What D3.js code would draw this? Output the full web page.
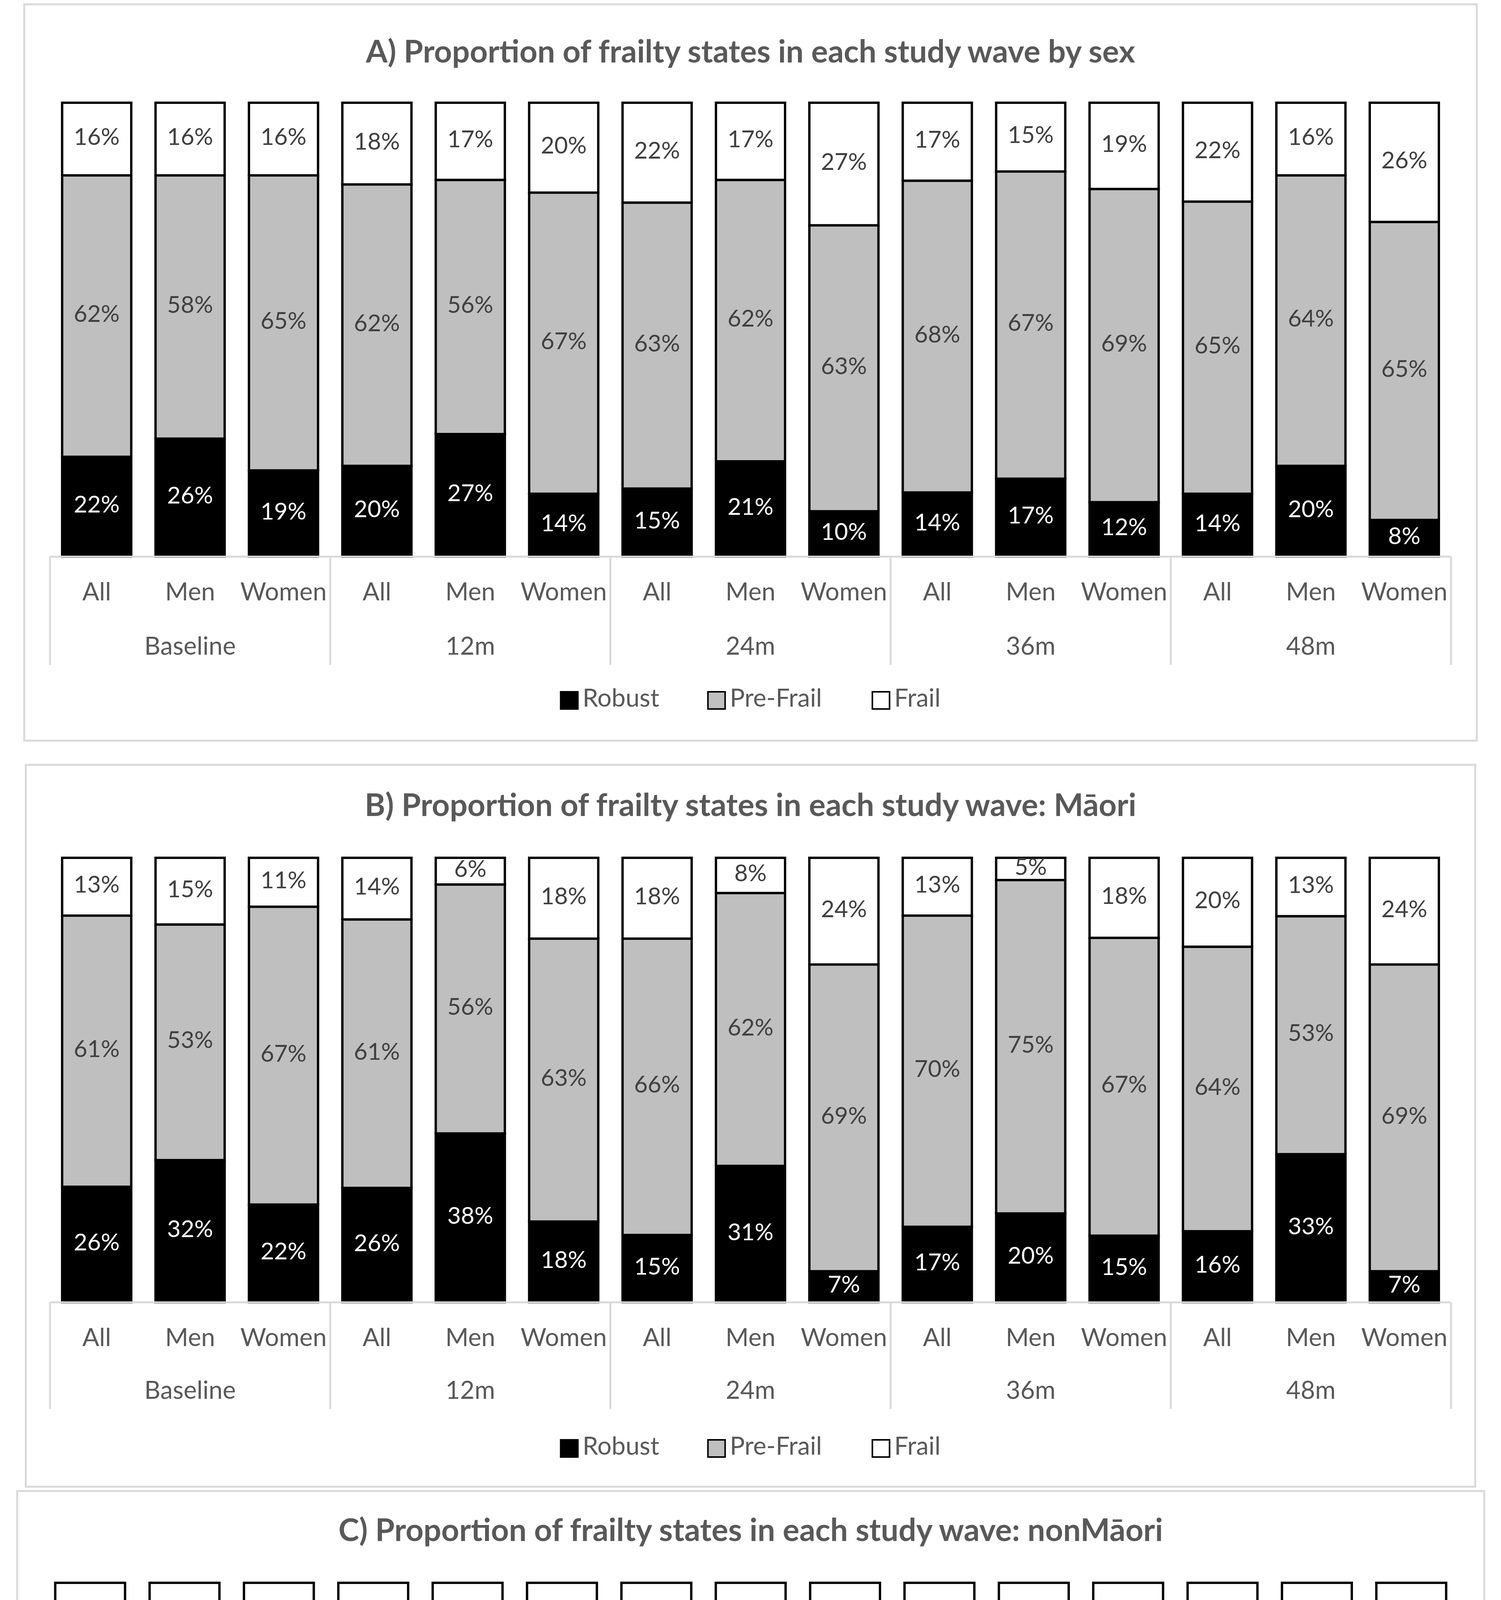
<!DOCTYPE html>
<html><head><meta charset="utf-8">
<script src="https://cdn.jsdelivr.net/npm/d3@7"></script>
<style>html,body{margin:0;padding:0;background:#fff;overflow:hidden}svg{display:block}</style>
</head><body>
<div id="chart"></div>
<script>
const W = 3843, H = 5756;
const waves = ['Baseline', '12m', '24m', '36m', '48m'];
const groups = ['All', 'Men', 'Women'];
const states = ['Robust', 'Pre-Frail', 'Frail'];
const fills = ['#000000', '#bfbfbf', '#ffffff'];
const labelColors = ['#ffffff', '#404040', '#404040'];

// [robust, pre-frail, frail] per wave x group
const dataA = [
  [22, 62, 16], [26, 58, 16], [19, 65, 16],
  [20, 62, 18], [27, 56, 17], [14, 67, 20],
  [15, 63, 22], [21, 62, 17], [10, 63, 27],
  [14, 68, 17], [17, 67, 15], [12, 69, 19],
  [14, 65, 22], [20, 64, 16], [8, 65, 26]
];
const dataB = [
  [26, 61, 13], [32, 53, 15], [22, 67, 11],
  [26, 61, 14], [38, 56, 6], [18, 63, 18],
  [15, 66, 18], [31, 62, 8], [7, 69, 24],
  [17, 70, 13], [20, 75, 5], [15, 67, 18],
  [16, 64, 20], [33, 53, 13], [7, 69, 24]
];
const dataC = [
  [20, 63, 17], [24, 61, 16], [18, 64, 18],
  [18, 62, 20], [24, 56, 20], [11, 68, 20],
  [15, 61, 23], [19, 62, 19], [12, 61, 27],
  [14, 68, 19], [17, 65, 18], [11, 70, 20],
  [13, 65, 22], [17, 66, 17], [9, 64, 27]
];

const panels = [
  {title: 'A) Proportion of frailty states in each study wave by sex', data: dataA,
   box: [62, 11, 3781, 1896], x0: 128, x1: 3715, title_y: 139, top: 263, bottom: 1425, lab: 1521, grp: 1660, sep: 1702, leg: 1793},
  {title: 'B) Proportion of frailty states in each study wave: Māori', data: dataB,
   box: [66, 1958, 3777, 3806], x0: 128, x1: 3715, title_y: 2068, top: 2196, bottom: 3334, lab: 3430, grp: 3565, sep: 3607, leg: 3708},
  {title: 'C) Proportion of frailty states in each study wave: nonMāori', data: dataC,
   box: [44, 3817, 3800, 5695], x0: 110, x1: 3734, title_y: 3924, top: 4052, bottom: 5208, lab: 5303, grp: 5442, sep: 5484, leg: 5585}
];

const font = 'Lato, "Open Sans", sans-serif';
const svg = d3.select('#chart').append('svg')
  .attr('width', W).attr('height', H).attr('viewBox', `0 0 ${W} ${H}`);

panels.forEach(p => {
  const g = svg.append('g');
  g.append('rect')
    .attr('x', p.box[0]).attr('y', p.box[1])
    .attr('width', p.box[2] - p.box[0]).attr('height', p.box[3] - p.box[1])
    .attr('fill', '#fff').attr('stroke', '#d9d9d9').attr('stroke-width', 5);

  g.append('text').attr('x', (p.box[0] + p.box[2]) / 2).attr('y', p.title_y)
    .attr('text-anchor', 'middle').attr('dominant-baseline', 'middle')
    .attr('font-family', font).attr('font-weight', 'bold').attr('font-size', 80)
    .attr('fill', '#595959').text(p.title);

  const keys = d3.range(15);
  const x = d3.scaleBand().domain(keys).range([p.x0, p.x1]).paddingInner(0.26).paddingOuter(0.13);
  const y = d3.scaleLinear().domain([0, 1]).range([p.bottom, p.top]);

  keys.forEach(i => {
    const vals = p.data[i];
    const tot = d3.sum(vals);
    let cum = 0;
    vals.forEach((v, k) => {
      const y0 = y(cum / tot), y1 = y((cum + v) / tot);
      cum += v;
      g.append('rect')
        .attr('x', x(i)).attr('y', y1).attr('width', x.bandwidth()).attr('height', y0 - y1)
        .attr('fill', fills[k]).attr('stroke', '#000').attr('stroke-width', 6);
      g.append('text')
        .attr('x', x(i) + x.bandwidth() / 2).attr('y', (y0 + y1) / 2)
        .attr('text-anchor', 'middle').attr('dominant-baseline', 'middle')
        .attr('font-family', font).attr('font-size', 60)
        .attr('fill', labelColors[k]).text(v + '%');
    });
    g.append('text')
      .attr('x', x(i) + x.bandwidth() / 2).attr('y', p.lab)
      .attr('text-anchor', 'middle').attr('dominant-baseline', 'middle')
      .attr('font-family', font).attr('font-size', 64).attr('fill', '#595959')
      .text(groups[i % 3]);
  });

  // axis line and group separators
  g.append('line').attr('x1', p.x0).attr('x2', p.x1).attr('y1', p.bottom).attr('y2', p.bottom)
    .attr('stroke', '#d9d9d9').attr('stroke-width', 5);
  const step = (p.x1 - p.x0) / waves.length;
  d3.range(waves.length + 1).forEach(j => {
    g.append('line').attr('x1', p.x0 + j * step).attr('x2', p.x0 + j * step)
      .attr('y1', p.bottom).attr('y2', p.sep)
      .attr('stroke', '#d9d9d9').attr('stroke-width', 5);
  });
  waves.forEach((w, j) => {
    g.append('text').attr('x', p.x0 + (j + 0.5) * step).attr('y', p.grp)
      .attr('text-anchor', 'middle').attr('dominant-baseline', 'middle')
      .attr('font-family', font).attr('font-size', 64).attr('fill', '#595959').text(w);
  });

  // legend
  const legX = [1435, 1812, 2233];
  const cx = (p.box[0] + p.box[2]) / 2 - 1921;
  states.forEach((s, k) => {
    g.append('rect').attr('x', legX[k] + cx).attr('y', p.leg - 22).attr('width', 44).attr('height', 44)
      .attr('fill', fills[k]).attr('stroke', '#000').attr('stroke-width', 4);
    g.append('text').attr('x', legX[k] + cx + 56).attr('y', p.leg)
      .attr('dominant-baseline', 'middle')
      .attr('font-family', font).attr('font-size', 64).attr('fill', '#595959').text(s);
  });
});
</script>
</body></html>
